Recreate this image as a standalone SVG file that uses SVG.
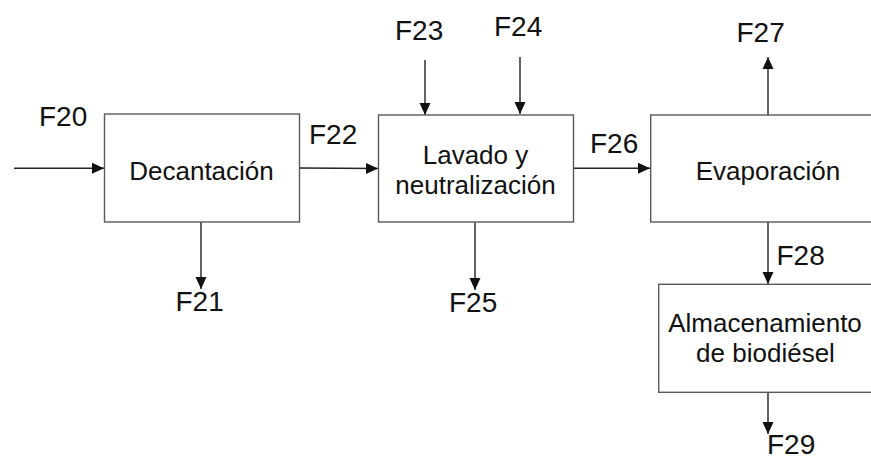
<svg xmlns="http://www.w3.org/2000/svg" width="871" height="460" viewBox="0 0 871 460">
<style>
.box{fill:#fff;stroke:#5a5a5a;stroke-width:1.4}
.lbl{font-family:"Liberation Sans",Arial,sans-serif;font-size:28px;fill:#111}
.txt{font-family:"Liberation Sans",Arial,sans-serif;font-size:26px;fill:#111;text-anchor:middle}
.con{stroke:#222;stroke-width:1.4;fill:none;marker-end:url(#ah)}
</style>
<defs>
<marker id="ah" markerUnits="userSpaceOnUse" markerWidth="13" markerHeight="13" viewBox="0 0 13 13" refX="12" refY="6.5" orient="auto">
<path d="M0,1 L12,6.5 L0,12 Z" fill="#111"/>
</marker>
</defs>
<rect width="871" height="460" fill="#fff"/>
<g id="connectors">
<line class="con" x1="14" y1="168.3" x2="104" y2="168.3"/>
<line class="con" x1="201" y1="222" x2="201" y2="289"/>
<line class="con" x1="300" y1="168" x2="378" y2="168.5"/>
<line class="con" x1="425" y1="60" x2="425" y2="115"/>
<line class="con" x1="520" y1="57" x2="520" y2="114"/>
<line class="con" x1="475" y1="222" x2="475" y2="290"/>
<line class="con" x1="573" y1="168.3" x2="650" y2="168.3"/>
<line class="con" x1="768" y1="115" x2="768" y2="57"/>
<line class="con" x1="768" y1="222" x2="768" y2="284"/>
<line class="con" x1="768" y1="392" x2="768" y2="434"/>
</g>
<g id="decantacion">
<rect class="box" x="104.5" y="114" width="195" height="108"/>
<text class="txt" x="201.5" y="180">Decantación</text>
</g>
<g id="lavado">
<rect class="box" x="378.5" y="115" width="195" height="107"/>
<text class="txt" x="475.5" y="163.5">Lavado y</text>
<text class="txt" x="475.5" y="193.5">neutralización</text>
</g>
<g id="evaporacion">
<rect class="box" x="650.7" y="115" width="235" height="107"/>
<text class="txt" x="768" y="180">Evaporación</text>
</g>
<g id="almacenamiento">
<rect class="box" x="658.7" y="284.3" width="214" height="108"/>
<text class="txt" x="765" y="331.7">Almacenamiento</text>
<text class="txt" x="765.5" y="362.3">de biodiésel</text>
</g>
<g id="labels">
<text class="lbl" x="39" y="126">F20</text>
<text class="lbl" x="175.5" y="311">F21</text>
<text class="lbl" x="309" y="144">F22</text>
<text class="lbl" x="395" y="40">F23</text>
<text class="lbl" x="494" y="36">F24</text>
<text class="lbl" x="449" y="312">F25</text>
<text class="lbl" x="590" y="153">F26</text>
<text class="lbl" x="736.5" y="42">F27</text>
<text class="lbl" x="776.5" y="264.5">F28</text>
<text class="lbl" x="767" y="454">F29</text>
</g>
</svg>
